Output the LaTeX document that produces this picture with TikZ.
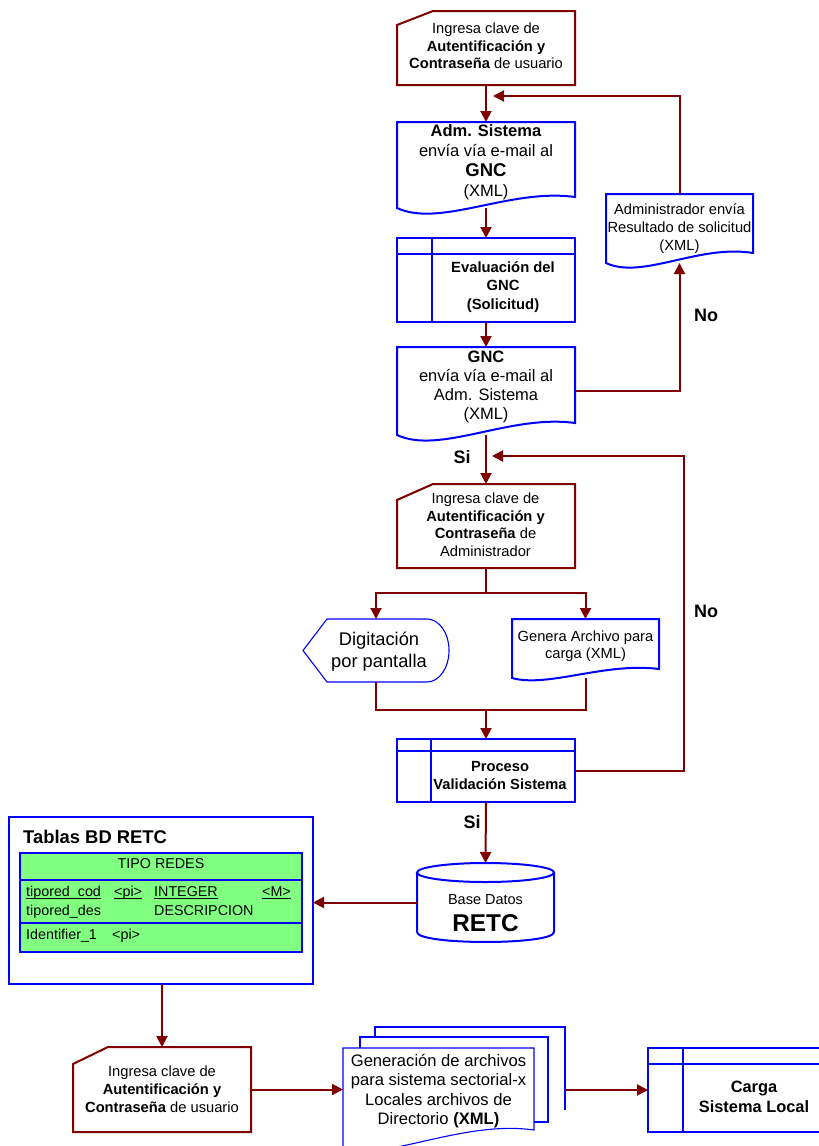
\documentclass[tikz,border=0pt]{standalone}
\usepackage{fontspec}
\setmainfont{Liberation Sans}
\usetikzlibrary{arrows.meta,calc}
\definecolor{dred}{RGB}{128,0,0}
\definecolor{fblue}{RGB}{0,0,255}
\definecolor{tgreen}{RGB}{128,255,128}
\newcommand\myfs[2]{\fontsize{#1}{#2}\selectfont}
\newcommand\uln[1]{\setbox0\hbox{#1}\rlap{\rule[-2.6pt]{\wd0}{1pt}}\box0}
\begin{document}
\begin{tikzpicture}[x=1pt,y=-1pt,
  sbox/.style={inner sep=0pt,outer sep=0pt,draw=none,rectangle},
  drl/.style={draw=dred,line width=2pt},
  bll/.style={draw=fblue,line width=2pt},
  blt/.style={draw=fblue,line width=1.1pt},
  conn/.style={draw=dred,line width=2pt},
  arr/.style={conn,-{Triangle[length=11pt,width=11pt]}},
  txt/.style={inner sep=0pt,align=center,font=\myfs{14.7}{17.5}},
  tbt/.style={inner sep=0pt,anchor=base west,font=\myfs{14.3}{17}},
  lbl/.style={inner sep=0pt,font=\myfs{18}{20}\bfseries}]
\useasboundingbox (0,0) rectangle (819,1146);
\clip (0,0) rectangle (819,1146);

% ---------- shapes (sized nodes) ----------
\node[sbox,minimum width=178pt,minimum height=74pt] (m1) at (486,48) {};
\node[sbox,minimum width=178pt,minimum height=86pt] (doc1) at (486,165) {};
\node[sbox,minimum width=178pt,minimum height=84pt] (eval) at (486,280) {};
\node[sbox,minimum width=178pt,minimum height=88pt] (doc2) at (486,391) {};
\node[sbox,minimum width=147pt,minimum height=69pt] (adm) at (679.5,228.5) {};
\node[sbox,minimum width=178pt,minimum height=84pt] (m2) at (486,526) {};
\node[sbox,minimum width=146pt,minimum height=63pt] (disp) at (376,650.5) {};
\node[sbox,minimum width=147pt,minimum height=59pt] (gen) at (585.5,648.5) {};
\node[sbox,minimum width=178pt,minimum height=63pt] (proc2) at (486,770.5) {};
\node[sbox,minimum width=137pt,minimum height=79pt] (db) at (485.5,902.5) {};
\node[sbox,minimum width=304pt,minimum height=167pt] (tbl) at (161,900.5) {};
\node[sbox,minimum width=178pt,minimum height=85pt] (m3) at (162,1089.5) {};
\node[sbox,minimum width=190pt,minimum height=83pt] (md3) at (470,1068.5) {};
\node[sbox,minimum width=188pt,minimum height=85pt] (md2) at (454,1079.5) {};
\node[sbox,minimum width=191pt,minimum height=102pt] (md) at (438.5,1099) {};
\node[sbox,minimum width=212pt,minimum height=84pt] (carga) at (754,1090) {};

% manual inputs
\draw[drl] (m1.south west) -- (m1.south east) -- (m1.north east) -- ([xshift=36pt]m1.north west) -- ([yshift=-14pt]m1.north west) -- cycle;
\draw[drl] (m2.south west) -- (m2.south east) -- (m2.north east) -- ([xshift=36pt]m2.north west) -- ([yshift=-16pt]m2.north west) -- cycle;
\draw[drl] (m3.south west) -- (m3.south east) -- (m3.north east) -- ([xshift=35pt]m3.north west) -- ([yshift=-17pt]m3.north west) -- cycle;

% documents
\draw[bll] (doc1.south west) -- (doc1.north west) -- (doc1.north east) -- ([yshift=11pt]doc1.south east)
  .. controls ([xshift=-65pt,yshift=20pt]doc1.south east) and ([xshift=43pt,yshift=-20pt]doc1.south west) .. (doc1.south west) -- cycle;
\draw[bll] (doc2.south west) -- (doc2.north west) -- (doc2.north east) -- ([yshift=12pt]doc2.south east)
  .. controls ([xshift=-65pt,yshift=21pt]doc2.south east) and ([xshift=43pt,yshift=-20pt]doc2.south west) .. (doc2.south west) -- cycle;
\draw[bll] (adm.south west) -- (adm.north west) -- (adm.north east) -- ([yshift=10pt]adm.south east)
  .. controls ([xshift=-54pt,yshift=19pt]adm.south east) and ([xshift=36pt,yshift=-17pt]adm.south west) .. (adm.south west) -- cycle;
\draw[bll] (gen.south west) -- (gen.north west) -- (gen.north east) -- ([yshift=9pt]gen.south east)
  .. controls ([xshift=-54pt,yshift=16pt]gen.south east) and ([xshift=36pt,yshift=-10pt]gen.south west) .. (gen.south west) -- cycle;

% multi document
\draw[blt] ([yshift=-10pt]md3.north west) -- (md3.north west) -- (md3.north east) -- (md3.south east) -- ([xshift=17pt]md2.east |- md3.south);
\draw[blt] ([yshift=-11pt]md2.north west) -- (md2.north west) -- (md2.north east) -- (md2.south east) -- (md.east |- md2.south);
\draw[blt,fill=white] (md.south west) -- (md.north west) -- (md.north east) -- ([yshift=20pt]md.south east)
  .. controls ([xshift=-70pt,yshift=30pt]md.south east) and ([xshift=45pt,yshift=-10pt]md.south west) .. (md.south west) -- cycle;

% predefined processes
\draw[bll] (eval.north west) rectangle (eval.south east);
\draw[bll] ([yshift=-16pt]eval.north west) -- ([yshift=-16pt]eval.north east);
\draw[bll] ([xshift=35pt]eval.north west) -- ([xshift=35pt]eval.south west);
\draw[bll] (proc2.north west) rectangle (proc2.south east);
\draw[bll] ([yshift=-12pt]proc2.north west) -- ([yshift=-12pt]proc2.north east);
\draw[bll] ([xshift=34pt]proc2.north west) -- ([xshift=34pt]proc2.south west);
\draw[bll] (carga.north west) rectangle (carga.south east);
\draw[bll] ([yshift=-16pt]carga.north west) -- ([yshift=-16pt]carga.north east);
\draw[bll] ([xshift=35pt]carga.north west) -- ([xshift=35pt]carga.south west);

% display
\draw[blt] (disp.west) -- ([xshift=24pt]disp.north west) -- ([xshift=-22pt]disp.north east)
  .. controls ([xshift=-9.9pt]disp.north east) and ([yshift=-14pt]disp.north east) .. (disp.east)
  .. controls ([yshift=14pt]disp.south east) and ([xshift=-9.9pt]disp.south east) .. ([xshift=-22pt]disp.south east)
  -- ([xshift=24pt]disp.south west) -- cycle;

% database cylinder
\draw[bll] ([yshift=-9.5pt]db.north) ellipse [x radius=68.5pt, y radius=9.5pt];
\draw[bll] ([yshift=-9.5pt]db.north west) -- ([yshift=10pt]db.south west)
  .. controls ([yshift=-3.3pt]db.south west) and ([yshift=-3.3pt]db.south east) .. ([yshift=10pt]db.south east)
  -- ([yshift=-9.5pt]db.north east);

% tables box
\draw[blt] (tbl.north west) rectangle (tbl.south east);
\node[sbox,minimum width=282pt,minimum height=99pt,fill=tgreen,draw=fblue,line width=1.1pt] (tblg) at (161,902.5) {};
\draw[blt] ([yshift=-27pt]tblg.north west) -- ([yshift=-27pt]tblg.north east);
\draw[blt] ([yshift=-70pt]tblg.north west) -- ([yshift=-70pt]tblg.north east);

% ---------- texts ----------
\node[txt] (m1t) at (486,46) {Ingresa clave de\\\textbf{Autentificación y}\\\textbf{Contraseña} de usuario};
\node[txt,font=\myfs{16.5}{20}] (doc1t) at (486,162) {\textbf{Adm. Sistema}\\envía vía e-mail al\\{\myfs{18.5}{20}\bfseries GNC}\\(XML)};
\node[txt,font=\myfs{14.8}{18.5}\bfseries] (evalt) at (503,287) {Evaluación del\\GNC\\(Solicitud)};
\node[txt,font=\myfs{16.5}{19}] (doc2t) at (486,386.5) {\textbf{GNC}\\envía vía e-mail al\\Adm. Sistema\\(XML)};
\node[txt,font=\myfs{14.7}{18}] (admt) at (679.5,229) {Administrador envía\\Resultado de solicitud\\(XML)};
\node[txt] (m2t) at (485.5,524.5) {Ingresa clave de\\\textbf{Autentificación y}\\\textbf{Contraseña} de\\Administrador};
\node[txt,font=\myfs{18.3}{22}] (dispt) at (379,652) {Digitación\\por pantalla};
\node[txt,font=\myfs{14.7}{17}] (gent) at (585.5,646.5) {Genera Archivo para\\carga (XML)};
\node[txt,font=\myfs{14.7}{18}\bfseries] (proc2t) at (500,776) {Proceso\\Validación Sistema};
\node[txt,font=\myfs{14.5}{17}] (dbt1) at (485.5,900) {Base Datos};
\node[txt,font=\myfs{24.3}{26}\bfseries] (dbt2) at (485.5,923) {RETC};
\node[inner sep=0pt,anchor=west,font=\myfs{18.4}{20}\bfseries] (tblt) at (23,837) {Tablas BD RETC};
\node[inner sep=0pt,font=\myfs{14.3}{17}] (tgh) at (161,864) {TIPO REDES};
\node[tbt] (r1a) at (26,896) {\uln{tipored\_cod}};
\node[tbt] (r1b) at (114,896) {\uln{<pi>}};
\node[tbt] (r1c) at (154,896) {\uln{INTEGER}};
\node[tbt] (r1d) at (262,896) {\uln{<M>}};
\node[tbt] (r2a) at (26,915) {tipored\_des};
\node[tbt] (r2c) at (154,915) {DESCRIPCION};
\node[tbt] (r3a) at (26,939) {Identifier\_1};
\node[tbt] (r3b) at (112,939) {<pi>};
\node[txt,font=\myfs{14.7}{18}] (m3t) at (162,1089) {Ingresa clave de\\\textbf{Autentificación y}\\\textbf{Contraseña} de usuario};
\node[txt,font=\myfs{16.6}{19.5}] (mdt) at (438.5,1091) {Generación de archivos\\para sistema sectorial-x\\Locales archivos de\\Directorio \textbf{(XML)}};
\node[txt,font=\myfs{16.4}{20}\bfseries] (cargat) at (754,1097) {Carga\\Sistema Local};

\node[lbl] (no1) at (706,315) {No};
\node[lbl] (no2) at (706,611) {No};
\node[lbl] (si1) at (462,457) {Si};
\node[lbl] (si2) at (472,822) {Si};

% ---------- connectors ----------
\coordinate (fb1) at (493,96);
\coordinate (fb2) at (492,456);
\coordinate (split) at (486,593);
\coordinate (merge) at (486,710);
\draw[arr] (m1.south) -- (doc1.north);
\draw[arr] (adm.north) |- (fb1);
\draw[arr] (doc1.south) -- (eval.north);
\draw[arr] (eval.south) -- (doc2.north);
\draw[arr] (doc2.east) -| (adm.south);
\draw[arr] (doc2.south) -- (m2.north);
\draw[arr] (proc2.east) -- ++(109,0) |- (fb2);
\draw[conn] (m2.south) -- (split);
\draw[arr] (split) -| (disp.north);
\draw[arr] (split) -| (gen.north);
\draw[conn] (disp.south) |- (merge) -| (gen.south);
\draw[arr] (merge) -- (proc2.north);
\draw[arr] (proc2.south) -- (db.north);
\draw[arr] (db.west) -- (tbl.east |- db.west);
\draw[arr] (m3.north |- tbl.south) -- (m3.north);
\draw[arr] (m3.east) -- (md.west |- m3.east);
\draw[arr] (md3.east |- carga.west) -- (carga.west);
\end{tikzpicture}
\end{document}
